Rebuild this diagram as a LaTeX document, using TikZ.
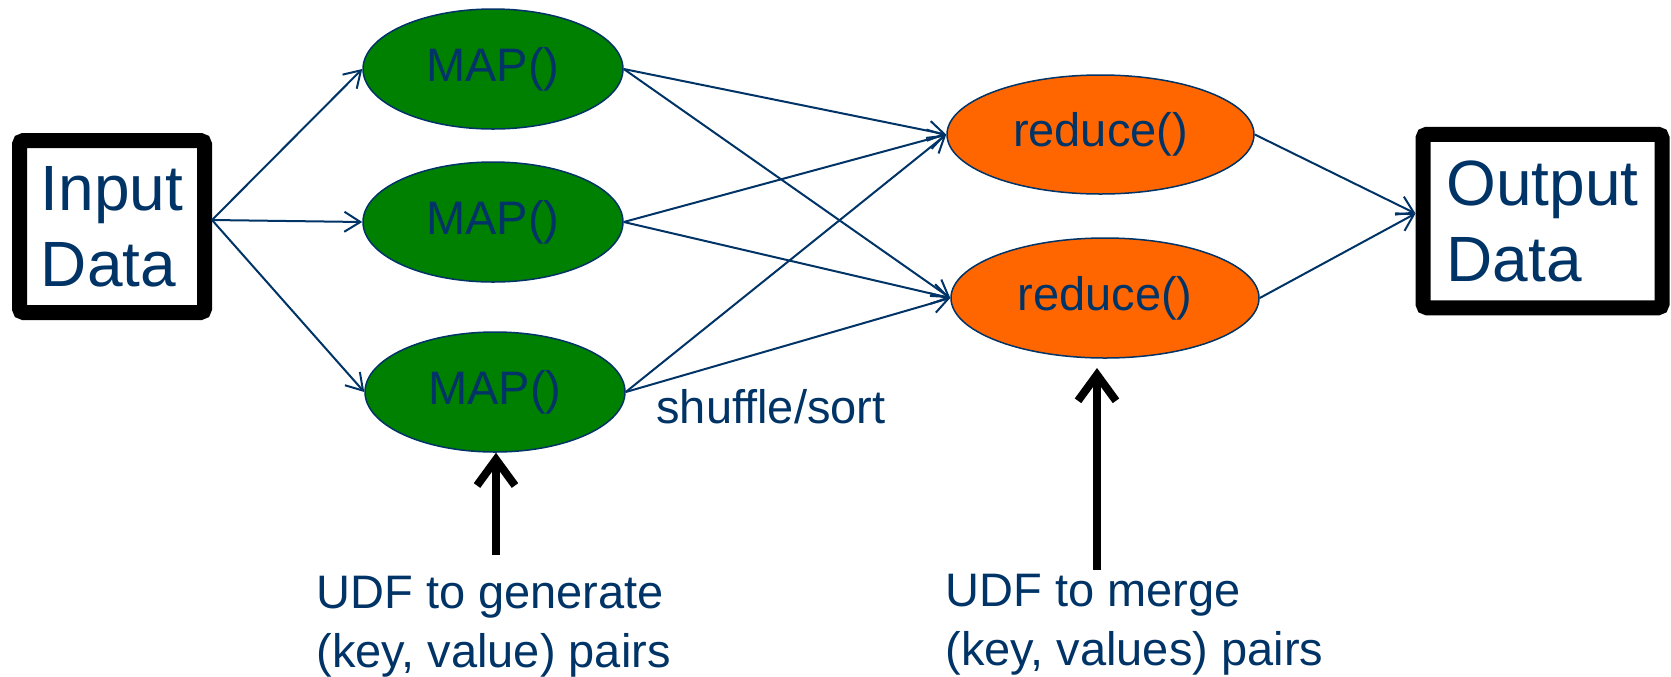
\documentclass[tikz,border=0pt]{standalone}
\usepackage{fontspec}
\setmainfont{Liberation Sans}
\usetikzlibrary{arrows.meta,calc,shapes.geometric}
\definecolor{navy}{RGB}{0,51,102}
\definecolor{mapgreen}{RGB}{0,128,0}
\definecolor{redorange}{RGB}{255,102,0}
\begin{document}
\begin{tikzpicture}[x=0.5pt,y=-0.5pt,
  flow/.style={draw=navy, line width=1pt, -{Straight Barb[length=8pt,width=10pt]}},
  udfarrow/.style={draw=black, line width=4pt, -{Straight Barb[length=13pt,width=19pt]}},
  databox/.style={draw=black, line width=7.5pt, rounded corners=2pt, fill=white, text=navy,
    font=\fontsize{32}{38}\selectfont, align=left, inner sep=0pt},
  mapnode/.style={ellipse, draw=navy, line width=0.75pt, fill=mapgreen, inner sep=0pt,
    minimum width=130pt, minimum height=60pt, text=navy, font=\fontsize{23.5}{28}\selectfont},
  rednode/.style={ellipse, draw=navy, line width=0.75pt, fill=redorange, inner sep=0pt,
    minimum width=154pt, minimum height=60pt, text=navy, font=\fontsize{23.5}{28}\selectfont},
  lbl/.style={text=navy, font=\fontsize{23.5}{29.5}\selectfont, align=left, inner sep=0pt}
]
\useasboundingbox (0,0) rectangle (1671,676);

\node[databox, minimum width=92.5pt, minimum height=86pt] (in) at (112,226.5) {Input\\Data};
\node[databox, minimum width=119.5pt, minimum height=86.75pt] (out) at (1542.5,221) {Output\\Data};

\node[mapnode] (map1) at (493,69) {MAP()};
\node[mapnode] (map2) at (493,222) {MAP()};
\node[mapnode] (map3) at (495,392) {MAP()};

\node[rednode, minimum width=153.5pt, minimum height=59.5pt] (red1) at (1100.5,134.5) {reduce()};
\node[rednode] (red2) at (1105,298) {reduce()};

\node[lbl, anchor=base west] (shuf) at (656,423) {shuffle/sort};
\node[lbl, anchor=base west] (udf1) at (316,667) {UDF to generate\\(key, value) pairs};
\node[lbl, anchor=base west] (udf2) at (945,665) {UDF to merge\\(key, values) pairs};

\coordinate (inP) at ([yshift=3.25pt]in.east);
\coordinate (outP) at ([yshift=3.75pt]out.west);
\coordinate (u1s) at (496,555);
\coordinate (u2s) at (1097,570);
\coordinate (u2e) at (1097,368);

\draw[flow] (inP) -- (map1.west);
\draw[flow] (inP) -- (map2.west);
\draw[flow] (inP) -- (map3.west);

\foreach \m in {map1,map2,map3}{
  \draw[flow] (\m.east) -- (red1.west);
  \draw[flow] (\m.east) -- (red2.west);
}

\draw[flow] (red1.east) -- (outP);
\draw[flow] (red2.east) -- (outP);

\draw[udfarrow] (u1s) -- (map3.south -| u1s);
\draw[udfarrow] (u2s) -- (u2e);
\end{tikzpicture}
\end{document}
